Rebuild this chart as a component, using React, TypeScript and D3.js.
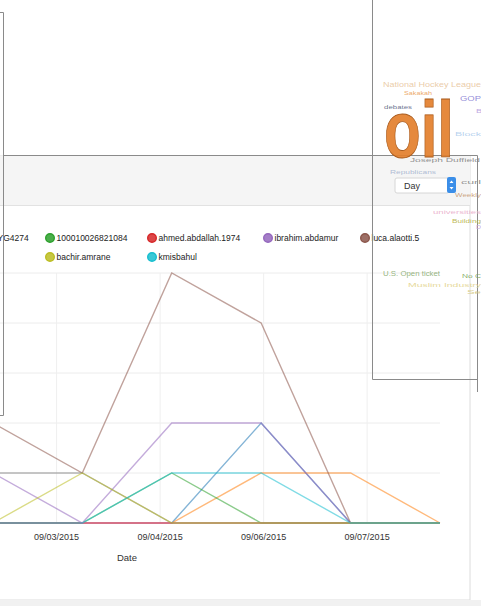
import React from "react";
import * as d3 from "d3";

// ---------- data ----------
const dates = ["09/01/2015", "09/02/2015", "09/03/2015", "09/04/2015", "09/05/2015", "09/06/2015", "09/07/2015", "09/08/2015"];
const seriesNames = ["ahmad.saleh80", "mohamed.ali.YG4274", "100010026821084", "ahmed.abdallah.1974", "ibrahim.abdamur", "luca.alaotti.5", "sara.hamed.9", "omar.khalil", "bachir.amrane", "kmisbahul"];
const blueVals = [0, 0, 0, 0, 0, 2, 0, 0];
const orangeVals = [0, 0, 0, 0, 0, 1, 1, 0];
const greenVals = [0, 0, 0, 0, 1, 0, 0, 0];
const redVals = [0, 0, 0, 0, 0, 0, 0, 0];
const purpleVals = [0, 0, 1, 0, 2, 2, 0, 0];
const brownVals = [0, 1, 2, 1, 5, 4, 0, 0];
const pinkVals = [0, 0, 0, 0, 0, 0, 0, 0];
const greyVals = [0, 0, 1, 1, 0, 0, 0, 0];
const oliveVals = [0, 0, 0, 1, 0, 0, 0, 0];
const tealVals = [0, 0, 0, 0, 1, 1, 0, 0];
const seriesValues = [blueVals, orangeVals, greenVals, redVals, purpleVals, brownVals, pinkVals, greyVals, oliveVals, tealVals];
const yTicks = [0, 1, 2, 3, 4, 5];
const xAxisTitle = "Date";
const periodOption = "Day";

const cloudWords = ["National Hockey League", "Sakakah", "GOP", "debates", "oil", "B", "Block", "Joseph Duffield", "Republicans", "curl", "Weekly", "universities", "Building", "D", "U.S. Open ticket", "No C", "Muslim Industry", "Se"];
const cloudWeights = [3, 2, 3, 2, 40, 2, 2, 2, 2, 2, 2, 2, 2, 2, 3, 2, 2, 2];

// ---------- layout / style (not data) ----------
const W = 481, H = 606;
const colors = d3.schemeCategory10;
const cloudLayout: [number, number, number, string][] = [
  [383, 87, 98, "#e9c9a3"], [404, 95, 28, "#eba45e"], [460, 101, 21, "#8d86d6"], [384, 109, 28, "#5f6a88"],
  [384, 157, 70, "#e37f2c"], [476, 113, 6, "#b9a3e0"], [455, 136, 26, "#b4d0ee"], [410, 162, 70, "#8a8a8a"],
  [390, 174, 46, "#aab8d2"], [461, 184, 20, "#8e8e8e"], [455, 197, 26, "#caa07a"], [433, 214, 48, "#eab0cc"],
  [452, 223, 29, "#b8b44a"], [476, 229, 5, "#c0a8e0"], [383, 276, 57, "#8fb076"], [462, 278, 19, "#7aa85c"],
  [408, 287, 73, "#e4d592"], [467, 294, 14, "#d5c882"],
];
const legendCols = [-170, -60, 50, 152, 268, 365];

export default function App() {
  const parse = d3.utcParse("%m/%d/%Y");
  const t = dates.map((d) => parse(d)!.getTime());
  const x = d3.scaleLinear().domain(d3.extent(t) as [number, number]).range([-186, 440]);
  const y = d3.scaleLinear().domain([0, 5]).range([523, 273]);
  const line = d3
    .line<number>()
    .x((_, i) => x(t[i]))
    .y((v) => y(v));
  const xTicks = x.ticks(6);
  const fmt = d3.utcFormat("%m/%d/%Y");
  const font = "'Liberation Sans', Arial, sans-serif";

  const legendItems = seriesNames.map((name, i) => {
    const row = i < 6 ? 0 : 1;
    const col = i < 6 ? i : i - 6;
    return { name, color: colors[i], cx: legendCols[col], cy: row === 0 ? 238 : 257 };
  });

  return (
    <div style={{ position: "fixed", left: 0, top: 0, width: W, height: H, overflow: "hidden", background: "#fff" }}>
      <svg width={W} height={H} style={{ display: "block", fontFamily: font }}>
        {/* card */}
        <rect x={-20} y={156} width={490} height={444} fill="#fff" stroke="#dcdcdc" />
        <rect x={-20} y={600} width={510} height={10} fill="#f1f1f1" />
        <rect x={-20} y={156} width={490} height={49} fill="#f5f5f5" />
        <line x1={-20} x2={470} y1={205.5} y2={205.5} stroke="#e2e2e2" />

        {/* grid */}
        <g>
          {yTicks.map((v) => (
            <line key={"gy" + v} x1={x.range()[0]} x2={x.range()[1]} y1={y(v)} y2={y(v)} stroke="#ececec" />
          ))}
          {xTicks.map((v) => (
            <line key={"gx" + v} x1={x(v)} x2={x(v)} y1={y(0)} y2={y(5)} stroke="#efefef" />
          ))}
        </g>

        {/* lines */}
        <g fill="none">
          {seriesValues.map((vals, i) => (
            <path key={"s" + i} d={line(vals)!} stroke={colors[i]} strokeWidth={1.4} strokeOpacity={0.55} />
          ))}
        </g>

        {/* x axis */}
        <g fontSize={9} fill="#333">
          {xTicks.map((v) => (
            <text key={"xt" + v} x={x(v)} y={540} textAnchor="middle">
              {fmt(new Date(v))}
            </text>
          ))}
          <text x={(x.range()[0] + x.range()[1]) / 2} y={561} textAnchor="middle" fontSize={9.5}>
            {xAxisTitle}
          </text>
        </g>

        {/* y axis labels (off-screen left) */}
        <g fontSize={9} fill="#333">
          {yTicks.map((v) => (
            <text key={"yt" + v} x={x.range()[0] - 6} y={y(v) + 3} textAnchor="end">
              {v}
            </text>
          ))}
        </g>

        {/* legend */}
        <g fontSize={8.5}>
          {legendItems.map((it) => (
            <g key={it.name} transform={`translate(${it.cx},${it.cy})`}>
              <circle r={4.3} fill={it.color} fillOpacity={0.85} stroke={it.color} strokeWidth={1.4} />
              <text x={6.5} y={3} fill="#222">
                {it.name}
              </text>
            </g>
          ))}
        </g>

        {/* period select */}
        <g>
          <rect x={395} y={178} width={54} height={15} rx={2} fill="#fff" stroke="#d6d6d6" />
          <text x={404} y={189} fontSize={9} fill="#333">
            {periodOption}
          </text>
          <rect x={447} y={177} width={9} height={16} rx={2} fill="#3b8ee8" />
          <path d="M449.5,183 L451.5,180.5 L453.5,183 Z M449.5,187 L451.5,189.5 L453.5,187 Z" fill="#fff" />
        </g>

        {/* overlay boxes */}
        <g fill="none" stroke="#8a8a8a" strokeWidth={1}>
          <path d="M0,12.5 H3.5 V415.5 H0" />
          <path d="M3.5,155.5 H477.5 V392" />
          <path d="M372.5,0 V379.5 H477.5" />
        </g>

        {/* word cloud */}
        <g>
          {cloudWords.map((w, i) => {
            const [wx, wy, ww, wc] = cloudLayout[i];
            const big = cloudWeights[i] > 10;
            const fs = big ? 80 : 2.5 + cloudWeights[i] * 1.8;
            return (
              <text
                key={"w" + i}
                x={wx}
                y={wy}
                fontSize={fs}
                fontWeight={big ? "bold" : "normal"}
                fill={wc}
                stroke={big ? "#a85a1c" : "none"}
                strokeWidth={big ? 0.8 : 0}
                fillOpacity={big ? 0.92 : 0.95}
                textLength={ww}
                lengthAdjust="spacingAndGlyphs"
              >
                {w}
              </text>
            );
          })}
        </g>
      </svg>
    </div>
  );
}
